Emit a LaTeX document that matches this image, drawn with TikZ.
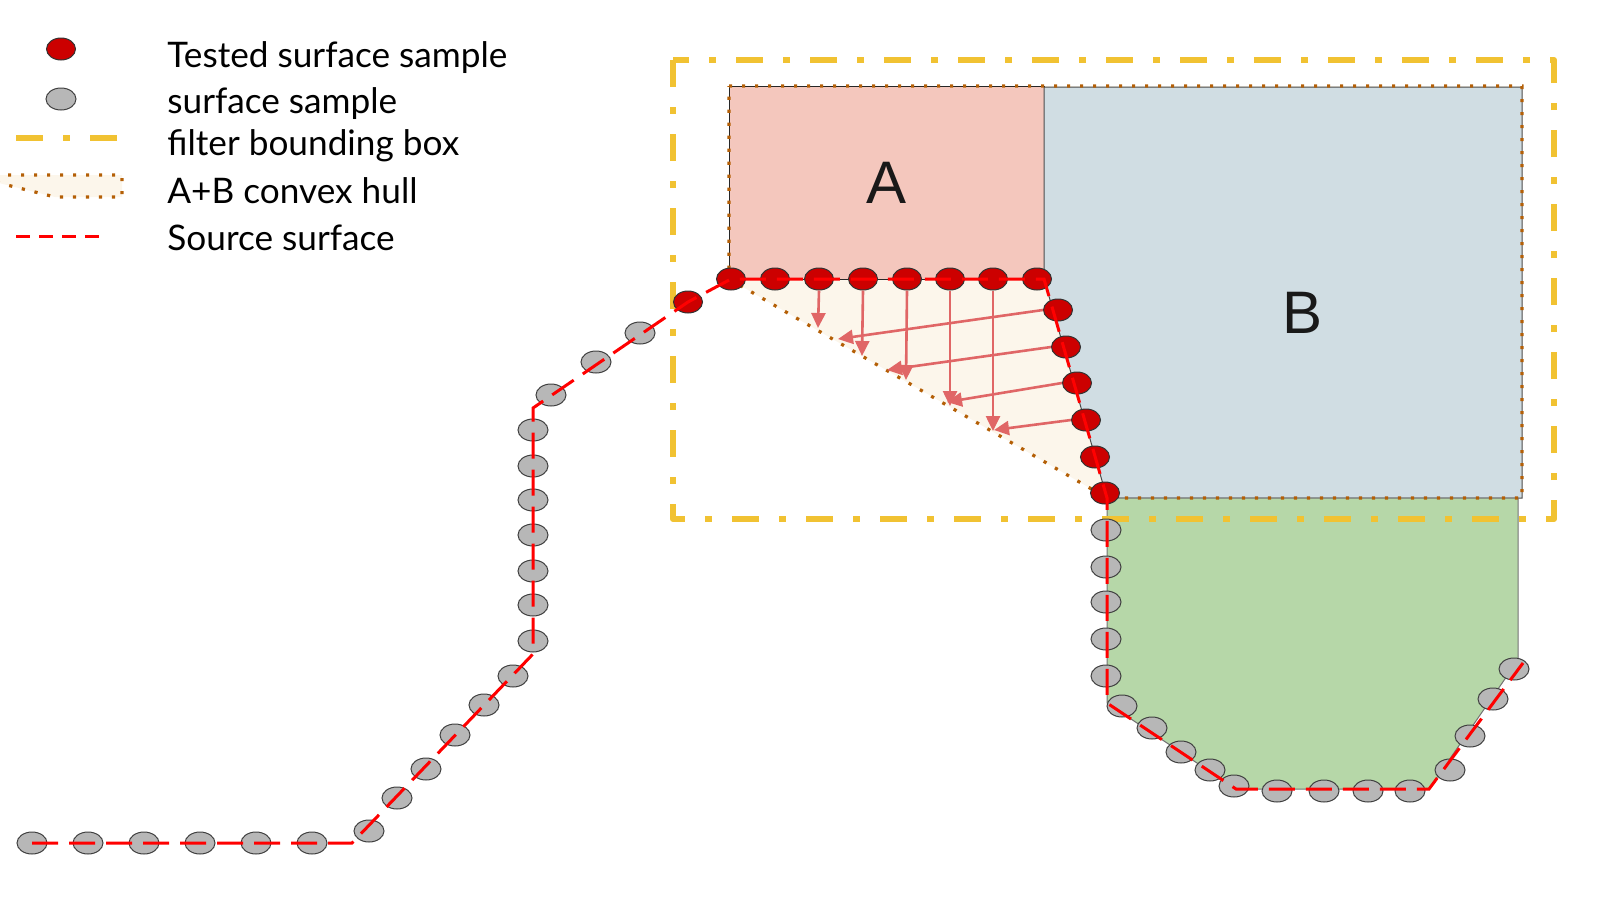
\documentclass[tikz,border=0pt]{standalone}
\usepackage{fontspec}
\setmainfont{Lato}
\newfontfamily\arialfont{Liberation Sans}
\usetikzlibrary{shapes.geometric,arrows.meta}
\definecolor{boxA}{RGB}{244,199,189}
\definecolor{boxB}{RGB}{208,221,227}
\definecolor{boxC}{RGB}{182,215,168}
\definecolor{hullfill}{RGB}{252,246,235}
\definecolor{hullline}{RGB}{180,95,6}
\definecolor{ybox}{RGB}{241,194,50}
\definecolor{tred}{RGB}{204,0,0}
\definecolor{sgray}{RGB}{183,183,183}
\definecolor{arrowc}{RGB}{224,102,102}
\begin{document}
\begin{tikzpicture}[x=0.5pt,y=-0.5pt,
  tested/.style={ellipse, draw=black!80, line width=0.5pt, fill=tred, minimum width=14.5pt, minimum height=11pt, inner sep=0pt},
  sample/.style={ellipse, draw=black!75, line width=0.5pt, fill=sgray, minimum width=15pt, minimum height=11pt, inner sep=0pt},
  src/.style={draw=red, line width=1.5pt, dash pattern=on 13pt off 5.5pt},
  hull/.style={draw=hullline, line width=1.6pt, dash pattern=on 1.6pt off 4.9pt},
  fbox/.style={draw=ybox, line width=3pt, dash pattern=on 13.5pt off 10pt on 3.5pt off 10pt, line join=round},
  hint/.style={draw=arrowc, line width=1.3pt, -{Triangle[length=7.5pt,width=7pt]}},
  legtext/.style={anchor=base west, font=\fontsize{17.6pt}{21pt}\selectfont, inner sep=0pt},
  biglabel/.style={font=\arialfont\fontsize{30pt}{36pt}\selectfont, text=black!90, inner sep=0pt}
]
\path[use as bounding box] (0,0) rectangle (1600,900);

% ---------- legend ----------
\node[tested] (lt) at (61,49) {};
\node[sample] (ls) at (61,99) {};
\coordinate (ly1) at (16,138);
\coordinate (ly2) at (117,138);
\draw[fbox] (ly1) -- (ly2);
\fill[hullfill] (-5,175) -- (122,175) -- (122,197) -- (55,197) -- (-5,182) -- cycle;
\draw[hull] (-5,175) -- (122,175) -- (122,197) -- (55,197) -- (-5,182);
\coordinate (lr1) at (16,236);
\coordinate (lr2) at (99,236);
\draw[src, dash pattern=on 7pt off 4.5pt] (lr1) -- (lr2);
\node[legtext] (tx1) at (167,67) {Tested surface sample};
\node[legtext] (tx2) at (167,113) {surface sample};
\node[legtext] (tx3) at (167,155) {filter bounding box};
\node[legtext] (tx4) at (167,203) {A+B convex hull};
\node[legtext] (tx5) at (167,250) {Source surface};

% ---------- regions ----------
\fill[hullfill] (729,86) -- (1522,86) -- (1522,498) -- (1107,498) -- (729,279) -- cycle;
\filldraw[fill=boxA, draw=black!85, line width=0.5pt] (729,86) rectangle (1044,279);
\filldraw[fill=boxB, draw=black!70, line width=0.5pt] (1044,87) -- (1522,87) -- (1522,498) -- (1107,498) -- (1044,279) -- cycle;
\filldraw[fill=boxC, draw=black!55, line width=0.5pt] (1107,498) -- (1518,498) -- (1518,660) -- (1429,789) -- (1236,789) -- (1107,703) -- cycle;
\draw[hull] (729,86) -- (1522,86) -- (1522,498) -- (1107,498) -- (729,279) -- cycle;
\draw[fbox] (673,60) rectangle (1554,519);

\node[biglabel] (la) at (886,183) {A};
\node[biglabel] (lb) at (1302,313) {B};

% ---------- samples ----------
\node[sample] (g1) at (32,843) {};
\node[sample] (g2) at (88,843) {};
\node[sample] (g3) at (144,843) {};
\node[sample] (g4) at (200,843) {};
\node[sample] (g5) at (256,843) {};
\node[sample] (g6) at (312,843) {};
\node[sample] (g7) at (369,831) {};
\node[sample] (g8) at (397,798) {};
\node[sample] (g9) at (426,769) {};
\node[sample] (g10) at (455,735) {};
\node[sample] (g11) at (484,705) {};
\node[sample] (g12) at (513,676) {};
\node[sample] (g13) at (533,641) {};
\node[sample] (g14) at (533,605) {};
\node[sample] (g15) at (533,571) {};
\node[sample] (g16) at (533,535) {};
\node[sample] (g17) at (533,500) {};
\node[sample] (g18) at (533,466) {};
\node[sample] (g19) at (533,430) {};
\node[sample] (g20) at (551,395) {};
\node[sample] (g21) at (596,362) {};
\node[sample] (g22) at (640,333) {};
\node[tested] (r0) at (688,302) {};
\node[tested] (r1) at (731,279) {};
\node[tested] (r2) at (775,279) {};
\node[tested] (r3) at (819,279) {};
\node[tested] (r4) at (863,279) {};
\node[tested] (r5) at (907,279) {};
\node[tested] (r6) at (950,279) {};
\node[tested] (r7) at (993,279) {};
\node[tested] (r8) at (1037,279) {};
\node[tested] (r9) at (1058,310) {};
\node[tested] (r10) at (1066,347) {};
\node[tested] (r11) at (1077,383) {};
\node[tested] (r12) at (1086,420) {};
\node[tested] (r13) at (1095,457) {};
\node[tested] (r14) at (1105,493) {};
\node[sample] (g23) at (1106,530) {};
\node[sample] (g24) at (1106,567) {};
\node[sample] (g25) at (1106,602) {};
\node[sample] (g26) at (1106,639) {};
\node[sample] (g27) at (1106,676) {};
\node[sample] (g28) at (1122,706) {};
\node[sample] (g29) at (1152,728) {};
\node[sample] (g30) at (1181,752) {};
\node[sample] (g31) at (1210,770) {};
\node[sample] (g32) at (1234,786) {};
\node[sample] (g33) at (1277,791) {};
\node[sample] (g34) at (1324,791) {};
\node[sample] (g35) at (1368,791) {};
\node[sample] (g36) at (1410,791) {};
\node[sample] (g37) at (1450,770) {};
\node[sample] (g38) at (1470,736) {};
\node[sample] (g39) at (1493,699) {};
\node[sample] (g40) at (1514,669) {};

% ---------- projection arrows ----------
\coordinate (v1) at (818,328);
\coordinate (v2) at (862,356);
\coordinate (v3) at (906,380);
\coordinate (v4) at (950,406);
\coordinate (v5) at (993,431);
\coordinate (h1) at (838,339);
\coordinate (h2) at (887,370);
\coordinate (h3) at (947,402);
\coordinate (h4) at (994,430);
\draw[hint] (r3.south) -- (v1);
\draw[hint] (r4.south) -- (v2);
\draw[hint] (r5.south) -- (v3);
\draw[hint] (r6.south) -- (v4);
\draw[hint] (r7.south) -- (v5);
\draw[hint] (r9.west) -- (h1);
\draw[hint] (r10.west) -- (h2);
\draw[hint] (r11.west) -- (h3);
\draw[hint] (r12.west) -- (h4);

% ---------- source surface ----------
\coordinate (k1) at (352,843);
\coordinate (k2) at (533,654);
\coordinate (k3) at (533,408);
\coordinate (k4) at (1044,279);
\coordinate (k5) at (1107,498);
\coordinate (k6) at (1107,703);
\coordinate (k7) at (1236,789);
\coordinate (k8) at (1429,789);
\coordinate (k9) at (1523,663);
\draw[src] (g1.center) -- (k1) -- (k2) -- (k3) -- (r0.center) -- (r1.center) -- (k4) -- (k5) -- (k6) -- (k7) -- (k8) -- (k9);
\end{tikzpicture}
\end{document}
